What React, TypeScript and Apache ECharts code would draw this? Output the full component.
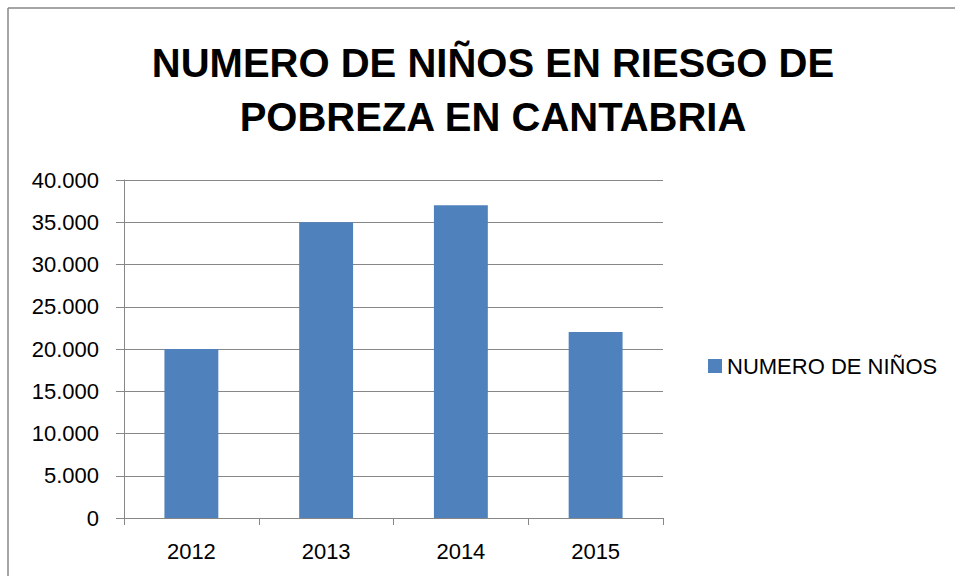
import React, { useEffect, useRef } from "react";
import * as echarts from "echarts";

const TITLE = "NUMERO DE NIÑOS EN RIESGO DE\nPOBREZA EN CANTABRIA";
const SERIES_NAME = "NUMERO DE NIÑOS";
const categories = ["2012", "2013", "2014", "2015"];
const values = [20000, 35000, 37000, 22000];
const yMin = 0;
const yMax = 40000;
const yInterval = 5000;

const FONT = "'Liberation Sans', Arial, sans-serif";

function fmt(v: number): string {
  return String(v).replace(/\B(?=(\d{3})+(?!\d))/g, ".");
}

export default function App() {
  const ref = useRef<HTMLDivElement>(null);
  useEffect(() => {
    document.body.style.margin = "0";
    document.body.style.overflow = "hidden";
    document.documentElement.style.overflow = "hidden";
    if (!ref.current) return;
    const chart = echarts.init(ref.current, undefined, { renderer: "svg" });
    chart.setOption({
      animation: false,
      backgroundColor: "#ffffff",
      title: {
        text: TITLE,
        left: 488,
        textAlign: "center",
        top: 31,
        textStyle: {
          fontFamily: FONT,
          fontWeight: "bold",
          fontSize: 40,
          lineHeight: 54,
          color: "#000000",
        },
      },
      legend: {
        left: 703,
        top: 350,
        itemWidth: 14,
        itemHeight: 14,
        itemGap: 10,
        icon: "rect",
        textStyle: { fontFamily: FONT, fontSize: 22, color: "#000000" },
        data: [SERIES_NAME],
      },
      graphic: [
        { type: "line", shape: { x1: 8, y1: 8, x2: 8, y2: 600 }, style: { stroke: "#878787", lineWidth: 1.5 } },
        { type: "line", shape: { x1: 8, y1: 8, x2: 1000, y2: 8 }, style: { stroke: "#878787", lineWidth: 1.5 } },
      ],
      grid: { left: 124, right: 292, top: 180, bottom: 58, containLabel: false },
      xAxis: {
        type: "category",
        data: categories,
        axisLine: { lineStyle: { color: "#878787", width: 1 } },
        axisTick: { show: true, alignWithLabel: false, length: 7, lineStyle: { color: "#878787" } },
        axisLabel: { fontFamily: FONT, fontSize: 22, color: "#000000", margin: 22 },
      },
      yAxis: {
        type: "value",
        min: yMin,
        max: yMax,
        interval: yInterval,
        axisLine: { show: true, lineStyle: { color: "#878787", width: 1 } },
        axisTick: { show: true, length: 8, lineStyle: { color: "#878787" } },
        splitLine: { lineStyle: { color: "#878787", width: 1 } },
        axisLabel: {
          fontFamily: FONT,
          fontSize: 22,
          color: "#000000",
          margin: 25,
          formatter: (v: number) => fmt(v),
        },
      },
      series: [
        {
          name: SERIES_NAME,
          type: "bar",
          data: values,
          barWidth: "40%",
          itemStyle: { color: "#4F81BD" },
        },
      ],
    });
    return () => chart.dispose();
  }, []);
  return <div ref={ref} style={{ width: 955, height: 576 }} />;
}
